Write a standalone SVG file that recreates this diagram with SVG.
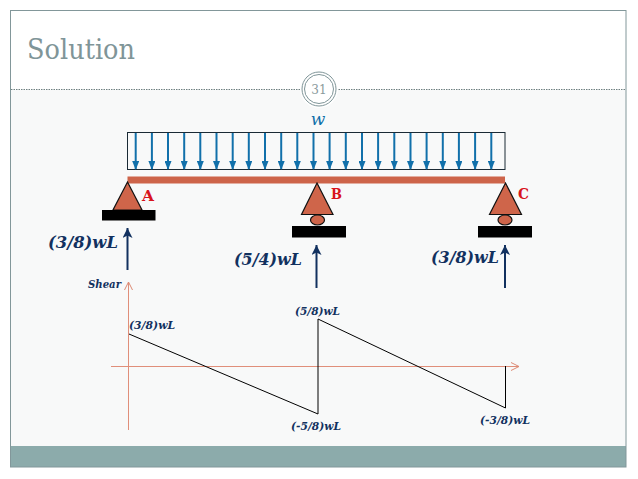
<svg xmlns="http://www.w3.org/2000/svg" width="638" height="479" viewBox="0 0 638 479">
<defs>
<marker id="blue" markerUnits="userSpaceOnUse" markerWidth="9" markerHeight="7" refX="8" refY="3.5" orient="auto"><path d="M0 0L9 3.5L0 7Z" fill="#1170aa"/></marker>
<marker id="navy" markerUnits="userSpaceOnUse" markerWidth="11" markerHeight="10" refX="10" refY="5" orient="auto"><path d="M0 0L10 5L0 10L2.5 5Z" fill="#12315f"/></marker>
<marker id="axis" markerUnits="userSpaceOnUse" markerWidth="9" markerHeight="9" refX="8" refY="4.5" orient="auto"><path d="M0 .5L8 4.5L0 8.5" fill="none" stroke="#dc8a74" stroke-width="1"/></marker>
</defs>
<style>
text{font-family:"DejaVu Serif","Liberation Serif",serif}
.load{stroke:#1170aa;stroke-width:2;marker-end:url(#blue)}
.react{stroke:#12315f;stroke-width:2;fill:none;marker-end:url(#navy)}
.ax{stroke:#e08f7a;stroke-width:1;fill:none;marker-end:url(#axis)}
.sup{fill:#cf654a;stroke:#111;stroke-width:1.2}
.big{fill:#12315f;font-size:16px;font-weight:700;font-style:italic}
.small{fill:#12315f;font-size:10.5px;font-weight:700;font-style:italic}
.red{fill:#d8141c;font-size:15px;font-weight:700}
</style>
<rect width="638" height="479" fill="#fff"/>
<rect x="11" y="90" width="615" height="356" fill="#f8f9f9"/>
<rect x="11" y="446" width="615" height="21" fill="#8cabab"/>
<rect x="10.5" y="10.5" width="615.5" height="456.5" fill="none" stroke="#82979a" stroke-width="1"/>
<line x1="11" y1="89.5" x2="626" y2="89.5" stroke="#6f8081" stroke-width="1" stroke-dasharray="1.5 1"/>
<text x="27" y="59" font-size="28" fill="#7f9598" textLength="108" lengthAdjust="spacingAndGlyphs">Solution</text>
<g id="badge">
<circle cx="319" cy="89" r="19" fill="#fff"/>
<circle cx="319" cy="89" r="17" fill="#fff" stroke="#7f9598" stroke-width="1"/>
<circle cx="319" cy="89" r="14.5" fill="none" stroke="#7f9598" stroke-width="1"/>
<text x="319" y="94" font-size="12" fill="#8a9a9c" text-anchor="middle">31</text>
</g>
<text id="load-label" x="318" y="125" font-size="17" font-style="italic" fill="#1170aa" text-anchor="middle">w</text>
<g id="load">
<rect x="127.5" y="132.5" width="377.5" height="37" fill="#fff" fill-opacity="0" stroke="#1a2a35" stroke-width="1"/>
<g id="load-arrows">
<line class="load" x1="135.7" y1="133" x2="135.7" y2="169"/>
<line class="load" x1="151.9" y1="133" x2="151.9" y2="169"/>
<line class="load" x1="168" y1="133" x2="168" y2="169"/>
<line class="load" x1="184.2" y1="133" x2="184.2" y2="169"/>
<line class="load" x1="200.3" y1="133" x2="200.3" y2="169"/>
<line class="load" x1="216.5" y1="133" x2="216.5" y2="169"/>
<line class="load" x1="232.7" y1="133" x2="232.7" y2="169"/>
<line class="load" x1="248.8" y1="133" x2="248.8" y2="169"/>
<line class="load" x1="265" y1="133" x2="265" y2="169"/>
<line class="load" x1="281.2" y1="133" x2="281.2" y2="169"/>
<line class="load" x1="297.3" y1="133" x2="297.3" y2="169"/>
<line class="load" x1="313.5" y1="133" x2="313.5" y2="169"/>
<line class="load" x1="329.6" y1="133" x2="329.6" y2="169"/>
<line class="load" x1="345.8" y1="133" x2="345.8" y2="169"/>
<line class="load" x1="362" y1="133" x2="362" y2="169"/>
<line class="load" x1="378.1" y1="133" x2="378.1" y2="169"/>
<line class="load" x1="394.3" y1="133" x2="394.3" y2="169"/>
<line class="load" x1="410.5" y1="133" x2="410.5" y2="169"/>
<line class="load" x1="426.6" y1="133" x2="426.6" y2="169"/>
<line class="load" x1="442.8" y1="133" x2="442.8" y2="169"/>
<line class="load" x1="458.9" y1="133" x2="458.9" y2="169"/>
<line class="load" x1="475.1" y1="133" x2="475.1" y2="169"/>
<line class="load" x1="491.3" y1="133" x2="491.3" y2="169"/>
</g>
</g>
<rect id="beam" x="127.5" y="176.5" width="377.5" height="7" fill="#cd644a"/>
<g id="support-a">
<path class="sup" d="M127.5 182L142 210H113Z"/>
<rect x="102" y="210" width="53.5" height="10.5" fill="#000"/>
<text class="red" x="142" y="201" textLength="12" lengthAdjust="spacingAndGlyphs">A</text>
</g>
<g id="support-b">
<path class="sup" d="M317 183L333 214.5H301.5Z"/>
<ellipse class="sup" cx="317.5" cy="220" rx="7" ry="5"/>
<rect x="292" y="226" width="54" height="11.5" fill="#000"/>
<text class="red" x="331" y="199" textLength="11" lengthAdjust="spacingAndGlyphs">B</text>
</g>
<g id="support-c">
<path class="sup" d="M505.5 183L521.5 214.5H489.5Z"/>
<ellipse class="sup" cx="505" cy="220" rx="7" ry="5"/>
<rect x="478" y="226" width="54" height="11.5" fill="#000"/>
<text class="red" x="518" y="199" textLength="11" lengthAdjust="spacingAndGlyphs">C</text>
</g>
<g id="connectors">
<line class="react" x1="127.5" y1="270" x2="127.5" y2="228"/>
<line class="react" x1="316.5" y1="288" x2="316.5" y2="245"/>
<line class="react" x1="505" y1="288" x2="505" y2="245"/>
<line class="ax" x1="128.5" y1="430" x2="128.5" y2="282"/>
<line class="ax" x1="111" y1="366.5" x2="519" y2="366.5"/>
<path d="M129 334L318 414V319L505.5 408V366" fill="none" stroke="#000" stroke-width="1"/>
</g>
<g id="labels">
<text class="big" x="48" y="248" textLength="70" lengthAdjust="spacingAndGlyphs">(3/8)wL</text>
<text class="big" x="234" y="265" textLength="68" lengthAdjust="spacingAndGlyphs">(5/4)wL</text>
<text class="big" x="431" y="263" textLength="68" lengthAdjust="spacingAndGlyphs">(3/8)wL</text>
<text class="small" x="88" y="288" textLength="33" lengthAdjust="spacingAndGlyphs">Shear</text>
<text class="small" x="129" y="329" textLength="46" lengthAdjust="spacingAndGlyphs">(3/8)wL</text>
<text class="small" x="295" y="315" textLength="45" lengthAdjust="spacingAndGlyphs">(5/8)wL</text>
<text class="small" x="291" y="430" textLength="50" lengthAdjust="spacingAndGlyphs">(-5/8)wL</text>
<text class="small" x="480" y="424" textLength="50" lengthAdjust="spacingAndGlyphs">(-3/8)wL</text>
</g>
</svg>
